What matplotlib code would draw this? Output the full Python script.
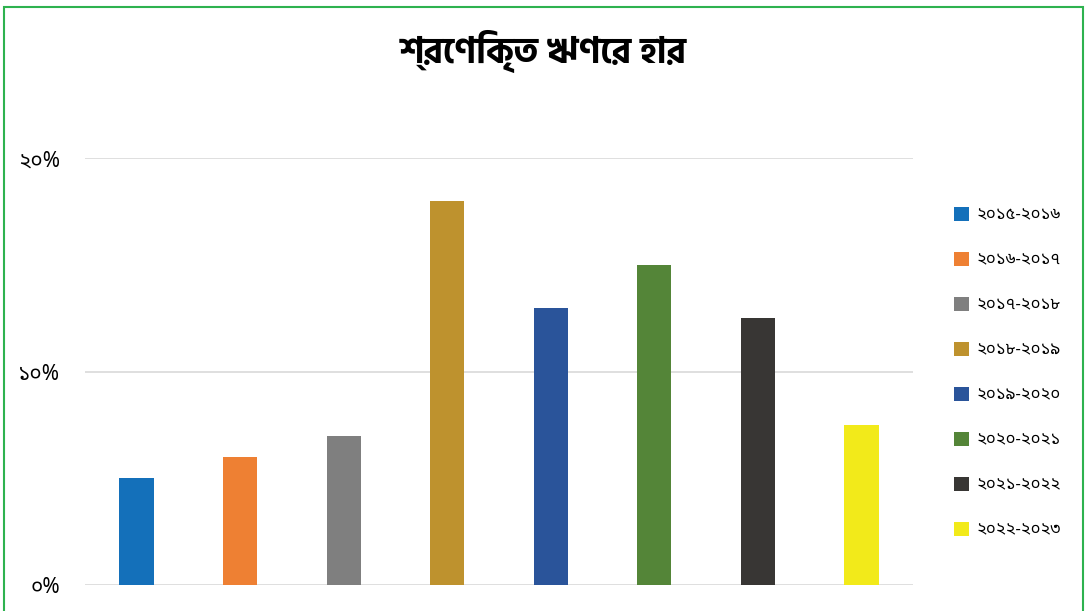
import matplotlib
matplotlib.use("Agg")
import matplotlib.pyplot as plt
from matplotlib import font_manager
from matplotlib.patches import Rectangle

periods = ["২০১৫-২০১৬", "২০১৬-২০১৭", "২০১৭-২০১৮", "২০১৮-২০১৯",
           "২০১৯-২০২০", "২০২০-২০২১", "২০২১-২০২২", "২০২২-২০২৩"]
rates = [5.0, 6.0, 7.0, 18.0, 13.0, 15.0, 12.5, 7.5]
colors = ["#1470BA", "#EE8033", "#7F7F7F", "#BE922E",
          "#2A549A", "#548538", "#383634", "#F2EA1A"]
yticks = [0, 10, 20]
ytick_labels = ["০%", "১০%", "২০%"]
title = "শ্রেণিকৃত ঋণের হার"

# register the Bengali fonts that are on the system
for path in font_manager.findSystemFonts():
    name = path.split("/")[-1]
    if name.startswith("HindSiliguri") or name.startswith("NotoSansBengali["):
        font_manager.fontManager.addfont(path)


def have(fam):
    try:
        font_manager.findfont(fam, fallback_to_default=False)
        return True
    except Exception:
        return False


body = [f for f in ["Noto Sans Bengali", "Hind Siliguri"] if have(f)] + ["DejaVu Sans"]
head = [f for f in ["Hind Siliguri", "Noto Sans Bengali"] if have(f)] + ["DejaVu Sans"]
plt.rcParams["font.family"] = body

fig = plt.figure(figsize=(10.86, 6.11), dpi=100)
ax = fig.add_axes([0.078, 0.0425, 0.763, 0.6985])

x = list(range(len(rates)))
for i in x:
    ax.bar(i, rates[i], width=0.33, color=colors[i], label=periods[i], zorder=3)

ax.set_xlim(-0.5, len(rates) - 0.5)
ax.set_ylim(0, 20)
ax.set_yticks(yticks)
ax.set_yticklabels(ytick_labels, fontsize=15)
ax.set_xticks([])
ax.tick_params(axis="y", length=0, pad=18)
ax.grid(axis="y", color="#D9D9D9", linewidth=1.2, zorder=0)
for s in ax.spines.values():
    s.set_visible(False)

fig.text(0.5, 0.915, title, ha="center", va="center", fontsize=26,
         fontweight="bold", family=head)

fig.legend(loc="upper left", bbox_to_anchor=(0.871, 0.675), frameon=False,
           fontsize=12, handlelength=0.9, handleheight=0.9, handletextpad=0.45,
           labelspacing=1.7, borderpad=0)

fig.patches.append(Rectangle((0.004, -0.01), 0.993, 0.999, transform=fig.transFigure,
                             fill=False, edgecolor="#2EB24F", linewidth=1.5))

fig.savefig("out.png", dpi=100)
